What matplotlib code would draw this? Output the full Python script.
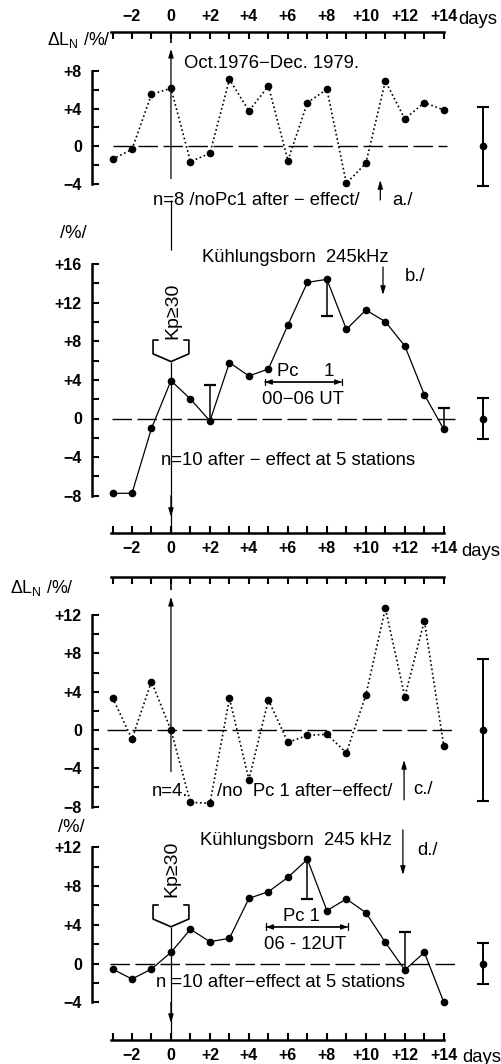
import numpy as np
import matplotlib.pyplot as plt
from matplotlib.ticker import FixedLocator, FuncFormatter

plt.rcParams['font.family'] = ['Liberation Sans', 'DejaVu Sans']
plt.rcParams['mathtext.fontset'] = 'custom'
plt.rcParams['mathtext.rm'] = 'Liberation Sans'
plt.rcParams['mathtext.it'] = 'Liberation Sans'
plt.rcParams['mathtext.bf'] = 'Liberation Sans:bold'

# days relative to the Kp event
days = np.arange(-3, 15)

# a./ Oct.1976 - Dec.1979, no Pc1 after-effect
dl_a = [-1.36, -0.31, 5.50, 6.13, -1.60, -0.73, 7.08, 3.74, 6.38, -1.50,
        4.62, 6.03, -3.90, -1.78, 6.90, 2.90, 4.62, 3.85]
# b./ Kuehlungsborn 245 kHz, Pc1 00-06 UT
dl_b = [-7.75, -7.75, -1.02, 3.92, 2.02, -0.26, 5.79, 4.41, 5.13, 9.69,
        14.11, 14.42, 9.24, 11.24, 10.03, 7.51, 2.47, -1.12]
b_err_days = [2, 8, 14]
b_err_tips = [3.47, 10.62, 1.12]
# c./ no Pc1 after-effect
dl_c = [3.37, -0.93, 5.05, 0.0, -7.55, -7.65, 3.30, -5.17, 3.13, -1.29,
        -0.56, -0.45, -2.37, 3.65, 12.70, 3.48, 11.41, -1.67]
# d./ Kuehlungsborn 245 kHz, Pc1 06-12 UT
dl_d = [-0.56, -1.59, -0.56, 1.16, 3.54, 2.26, 2.61, 6.73, 7.42, 8.90,
        10.76, 5.47, 6.67, 5.26, 2.19, -0.66, 1.16, -3.99]
d_err_days = [7, 12]
d_err_tips = [6.63, 3.23]

# mean error bars drawn at the right hand side
err_day = 16
err_a, err_b, err_c, err_d = 4.2, 2.1, 7.4, 2.1

W, H = 501, 1064
LEFT, RIGHT = 91.5, 497
X0PX, PPD = 112.5, 19.49  # pixel of day -3, pixels per day

fig = plt.figure(figsize=(W / 100, H / 100), dpi=100)
fig.patch.set_facecolor('white')

TXT = 13.3
TICK = 11.5


def sgn(v):
  v = int(round(v))
  if v == 0:
    return '0'
  return ('+' if v > 0 else '\u2212') + str(abs(v))


def panel(top, bottom, zero, ppu, ylo, yhi, xside):
  ax = fig.add_axes([LEFT / W, 1 - bottom / H, (RIGHT - LEFT) / W, (bottom - top) / H])
  ax.set_xlim(-3 - (X0PX - LEFT) / PPD, -3 + (RIGHT - X0PX) / PPD)
  ax.set_ylim((zero - bottom) / ppu, (zero - top) / ppu)
  ax.patch.set_visible(False)
  for s in ax.spines.values():
    s.set_visible(False)
  # y axis as a bracket
  ax.spines['left'].set_visible(True)
  ax.spines['left'].set_bounds(ylo, yhi)
  ax.spines['left'].set_linewidth(1.8)
  ax.yaxis.set_major_locator(FixedLocator(np.arange(ylo, yhi + 1, 2)))
  ax.yaxis.set_major_formatter(FuncFormatter(lambda v, p: sgn(v) if int(round(v)) % 4 == 0 else ''))
  ax.tick_params(axis='y', direction='in', length=5, width=1.5, pad=7, labelsize=TICK)
  for lab in ax.get_yticklabels():
    lab.set_fontweight('bold')
  # x axis (days)
  ax.spines[xside].set_visible(True)
  ax.spines[xside].set_bounds(-3.1, 14)
  ax.spines[xside].set_linewidth(1.8)
  ax.xaxis.set_ticks_position(xside)
  ax.xaxis.set_major_locator(FixedLocator(days))
  ax.xaxis.set_major_formatter(FuncFormatter(lambda v, p: sgn(v) if int(round(v)) % 2 == 0 else ''))
  ax.tick_params(axis='x', direction='in', length=5, width=1.5, pad=6, labelsize=TICK)
  for lab in ax.get_xticklabels():
    lab.set_fontweight('bold')
  return ax


def zero_line(ax, x0, x1):
  ax.plot([x0, x1], [0, 0], color='k', lw=1.0, dashes=(14, 4))


def arrow(ax, x, y0, y1):
  ax.annotate('', xy=(x, y1), xytext=(x, y0), annotation_clip=False,
              arrowprops=dict(arrowstyle='-|>,head_width=0.15,head_length=0.5',
                              color='k', lw=0.9, shrinkA=0, shrinkB=0))


def pc_arrow(ax, x0, x1, y):
  ax.annotate('', xy=(x1, y), xytext=(x0, y),
              arrowprops=dict(arrowstyle='<|-|>,head_width=0.15,head_length=0.4',
                              color='k', lw=0.9, shrinkA=0, shrinkB=0))
  ax.annotate('', xy=(x1, y), xytext=(x0, y),
              arrowprops=dict(arrowstyle='|-|,widthA=0.25,widthB=0.25',
                              color='k', lw=0.9, shrinkA=0, shrinkB=0))


def kp_brace(ax, ytop, yshoulder, ytip, half=0.92):
  xs = [-half + 0.25, -half, -half, 0, half, half, half - 0.25]
  ys = [ytop, ytop, yshoulder, ytip, yshoulder, ytop, ytop]
  ax.plot(xs, ys, color='k', lw=1.2, clip_on=False)


def right_err(ax, e):
  ax.errorbar([err_day], [0], yerr=[e], fmt='o', color='k', ms=4.5,
              capsize=4.5, elinewidth=1.4, capthick=1.5)


def single_err(ax, xs, pts, tips):
  ys = [pts[list(days).index(x)] for x in xs]
  ax.vlines(xs, ys, tips, color='k', lw=1.1)
  ax.plot(xs, tips, ls='none', marker='_', ms=8, mew=1.6, color='k')


# ---- panel a ----
ax_a = panel(32, 215, 146.4, 9.47, -4, 8, 'top')
zero_line(ax_a, -2.95, 14.15)
ax_a.plot(days, dl_a, color='k', ls=(0, (1, 1.6)), lw=1.2, marker='o', ms=4.5)
right_err(ax_a, err_a)
arrow(ax_a, 0, -3.4, 10.3)
ax_a.vlines(0, 10.9, 12.08, color='k', lw=1.2)
arrow(ax_a, 10.74, -5.66, -3.55)
ax_a.text(5.17, 8.8, 'Oct.1976\u2212Dec. 1979.', ha='center', va='center', fontsize=TXT)
ax_a.text(4.36, -5.66, 'n=8 /noPc1 after \u2212 effect/', ha='center', va='center', fontsize=TXT)
ax_a.text(11.35, -5.66, 'a./', ha='left', va='center', fontsize=TXT)
ax_a.text(-6.36, 11.2, r'$\Delta L_N$ /%/', ha='left', va='center', fontsize=TXT - 0.5)
ax_a.text(14.75, 13.35, 'days', ha='left', va='center', fontsize=TXT)

# ---- panel b ----
ax_b = panel(215, 533, 418.5, 9.65, -8, 16, 'bottom')
zero_line(ax_b, -3.04, 14.57)
ax_b.plot(days, dl_b, color='k', lw=0.9, marker='o', ms=4.5)
single_err(ax_b, b_err_days, dl_b, b_err_tips)
right_err(ax_b, err_b)
ax_b.vlines(0, 17.5, 22.6, color='k', lw=0.9, clip_on=False)
kp_brace(ax_b, 8.13, 6.7, 5.9)
ax_b.vlines(0, -11.87, 5.9, color='k', lw=0.9)
arrow(ax_b, 0, -8.0, -10.2)
arrow(ax_b, 10.88, 15.7, 12.8)
ax_b.text(0.12, 11.2, 'Kp\u226530', rotation=90, ha='center', va='center', fontsize=14)
ax_b.text(-5.69, 19.2, '/%/', ha='left', va='center', fontsize=TXT)
ax_b.text(6.36, 16.7, 'K\u00fchlungsborn  245kHz', ha='center', va='center', fontsize=TXT)
ax_b.text(12.0, 14.7, 'b./', ha='left', va='center', fontsize=TXT)
ax_b.text(6.9, 4.92, 'Pc     1', ha='center', va='center', fontsize=TXT)
pc_arrow(ax_b, 4.82, 8.77, 3.78)
ax_b.text(6.79, 1.92, '00\u221206 UT', ha='center', va='center', fontsize=TXT)
ax_b.text(6.03, -4.4, 'n=10 after \u2212 effect at 5 stations', ha='center', va='center', fontsize=TXT)
ax_b.text(14.9, -13.83, 'days', ha='left', va='center', fontsize=TXT)

# ---- panel c ----
ax_c = panel(577, 815, 730, 9.58, -8, 12, 'top')
ax_c.tick_params(axis='x', labeltop=False)
zero_line(ax_c, -3.3, 14.66)
ax_c.plot(days, dl_c, color='k', ls=(0, (1, 1.6)), lw=1.2, marker='o', ms=4.5)
right_err(ax_c, err_c)
arrow(ax_c, 0, -4.35, 13.9)
ax_c.vlines(0, 14.6, 15.97, color='k', lw=1.2)
arrow(ax_c, 11.96, -7.3, -3.13)
ax_c.text(-8.26, 14.8, r'$\Delta L_N$ /%/', ha='left', va='center', fontsize=TXT - 0.5)
ax_c.text(-0.97, -6.47, 'n=4.', ha='left', va='center', fontsize=TXT)
ax_c.text(2.35, -6.47, '/no  Pc 1 after\u2212effect/', ha='left', va='center', fontsize=TXT)
ax_c.text(12.42, -6.26, 'c./', ha='left', va='center', fontsize=TXT)

# ---- panel d ----
ax_d = panel(815, 1040, 963.6, 9.69, -4, 12, 'bottom')
zero_line(ax_d, -3.13, 14.74)
ax_d.plot(days, dl_d, color='k', lw=0.9, marker='o', ms=4.5)
single_err(ax_d, d_err_days, dl_d, d_err_tips)
right_err(ax_d, err_d)
kp_brace(ax_d, 6.05, 4.6, 3.8)
ax_d.vlines(0, -7.88, 3.8, color='k', lw=0.9)
arrow(ax_d, 0, -4.0, -6.13)
arrow(ax_d, 11.9, 13.8, 9.15)
ax_d.text(0.04, 9.83, 'Kp\u226530', rotation=90, ha='center', va='center', fontsize=14)
ax_d.text(-5.8, 14.0, '/%/', ha='left', va='center', fontsize=TXT)
ax_d.text(6.42, 12.75, 'K\u00fchlungsborn  245 kHz', ha='center', va='center', fontsize=TXT)
ax_d.text(12.62, 11.7, 'd./', ha='left', va='center', fontsize=TXT)
ax_d.text(6.67, 4.9, 'Pc 1', ha='center', va='center', fontsize=TXT)
pc_arrow(ax_d, 4.88, 9.08, 3.78)
ax_d.text(6.88, 2.0, '06 - 12UT', ha='center', va='center', fontsize=TXT)
ax_d.text(5.62, -1.9, 'n =10 after\u2212effect at 5 stations', ha='center', va='center', fontsize=TXT)
ax_d.text(14.95, -9.64, 'days', ha='left', va='center', fontsize=TXT)

fig.savefig('out.png', dpi=100, facecolor='white')
